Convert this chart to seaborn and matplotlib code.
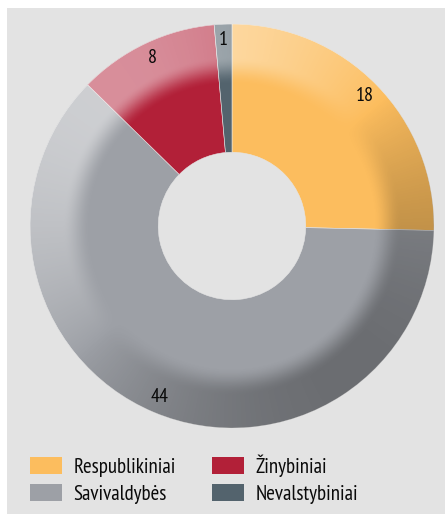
import numpy as np
import matplotlib
matplotlib.use("Agg")
import matplotlib.pyplot as plt
import seaborn as sns
from matplotlib.patches import Rectangle

sns.set_style("white")
plt.rcParams['font.family'] = ['PT Sans Narrow', 'DejaVu Sans']

categories = ["Respublikiniai", "Savivaldybės", "Žinybiniai", "Nevalstybiniai"]
values = [18, 44, 8, 1]
colors = ["#fcbd5e", "#9da0a6", "#b22038", "#53636d"]

W, H = 445, 515
fig = plt.figure(figsize=(W / 100, H / 100), dpi=100, facecolor="white")
bg = "#e3e3e3"
fig.patches.append(Rectangle((7 / W, 1 / H), 1 - 7 / W, (H - 9) / H, transform=fig.transFigure,
                             facecolor=bg, edgecolor="none", zorder=-10))

R = 202
cx, cy = 232, 226
ax = fig.add_axes([(cx - R) / W, (H - cy - R) / H, 2 * R / W, 2 * R / H])
ax.set_facecolor("none")
ax.patch.set_alpha(0)

hole = 0.365
wedges, _ = ax.pie(values, colors=colors, startangle=90, counterclock=False, radius=1,
                   wedgeprops=dict(width=1 - hole, edgecolor="#e6e6e6", linewidth=0.4))

# shading overlay (toroidal look)
n = 500
xs = np.linspace(-1, 1, n)
X, Y = np.meshgrid(xs, xs[::-1])
r = np.hypot(X, Y)
th = np.arctan2(Y, X)
rim = np.clip((r - 0.70) / 0.14, 0, 1)
rim = rim * rim * (3 - 2 * rim)
c = np.cos(th - np.deg2rad(130))
light = np.clip(c, 0, 1) ** 0.8 * rim * 0.5
dark = np.clip(-c, 0, 1) ** 0.8 * rim * 0.32
for w in wedges:
    img_l = np.zeros((n, n, 4))
    img_l[..., :3] = 1
    img_l[..., 3] = light
    im1 = ax.imshow(img_l, extent=(-1, 1, -1, 1), zorder=3, interpolation="bilinear")
    im1.set_clip_path(w)
    img_d = np.zeros((n, n, 4))
    img_d[..., 3] = dark
    im2 = ax.imshow(img_d, extent=(-1, 1, -1, 1), zorder=3, interpolation="bilinear")
    im2.set_clip_path(w)

# labels
total = sum(values)
start = 90.0
for v in values:
    span = v / total * 360
    mid = np.deg2rad(start - span / 2)
    ax.text(0.92 * np.cos(mid), 0.92 * np.sin(mid), str(v), ha="center", va="center",
            fontsize=14.5, color="#0a0a0a", zorder=5)
    start -= span
ax.set_xlim(-1, 1)
ax.set_ylim(-1, 1)
ax.set_aspect("equal")
ax.axis("off")

# legend
handles = [Rectangle((0, 0), 1, 1, facecolor=col, edgecolor="none") for col in colors]
leg = fig.legend(handles, categories,
                 ncol=2, loc="upper left", bbox_to_anchor=(22 / W, 1 - 446 / H),
                 frameon=False, fontsize=15, handlelength=1.5, handleheight=0.9,
                 handletextpad=0.58, columnspacing=1.75, labelspacing=0.33, borderaxespad=0)
for t in leg.get_texts():
    t.set_color("#0a0a0a")

fig.savefig("out.png", dpi=100, facecolor="white")
